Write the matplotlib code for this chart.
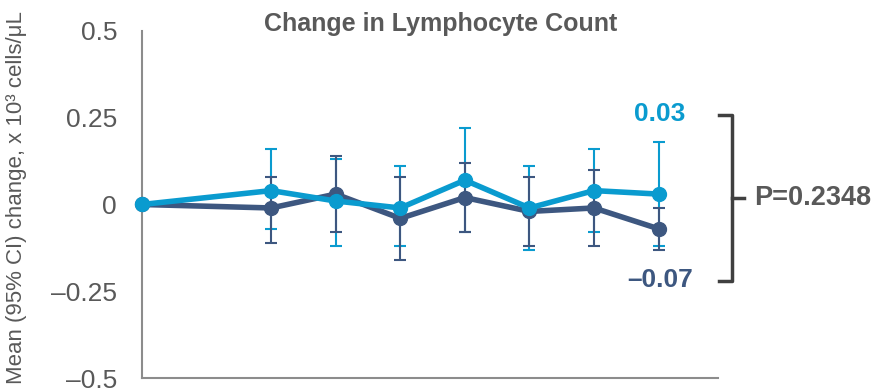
import matplotlib.pyplot as plt
import numpy as np

plt.rcParams['font.family'] = ['Liberation Sans', 'DejaVu Sans']

# visit positions (weeks) and mean change with 95% CI
weeks = [0, 4, 6, 8, 10, 12, 14, 16]

light_mean = [0.0, 0.04, 0.01, -0.01, 0.07, -0.01, 0.04, 0.03]
light_lo = [0.0, -0.07, -0.12, -0.12, -0.08, -0.13, -0.08, -0.12]
light_hi = [0.0, 0.16, 0.13, 0.11, 0.22, 0.11, 0.16, 0.18]

dark_mean = [0.0, -0.01, 0.03, -0.04, 0.02, -0.02, -0.01, -0.07]
dark_lo = [0.0, -0.11, -0.08, -0.16, -0.08, -0.12, -0.12, -0.13]
dark_hi = [0.0, 0.08, 0.14, 0.08, 0.12, 0.08, 0.10, -0.01]

yticks = [0.5, 0.25, 0, -0.25, -0.5]
ytick_labels = ['0.5', '0.25', '0', '\u20130.25', '\u20130.5']

p_value = 'P=0.2348'

LIGHT = '#0A9BCF'
DARK = '#3D5780'
GREY = '#595959'

fig = plt.figure(figsize=(8.77, 3.91), dpi=100)
ax = fig.add_axes([0.162, 0.033, 0.657, 0.888])


def yerr(mean, lo, hi):
    m = np.array(mean)
    return np.vstack([m - np.array(lo), np.array(hi) - m])


# error bars under the lines
ax.errorbar(weeks[1:], light_mean[1:], yerr=yerr(light_mean, light_lo, light_hi)[:, 1:],
            fmt='none', ecolor=LIGHT, elinewidth=1.5, capsize=4, capthick=1.5, zorder=2)
ax.errorbar(weeks[1:], dark_mean[1:], yerr=yerr(dark_mean, dark_lo, dark_hi)[:, 1:],
            fmt='none', ecolor=DARK, elinewidth=1.5, capsize=4, capthick=1.5, zorder=2)

ax.plot(weeks, dark_mean, color=DARK, lw=4, marker='o', ms=10, zorder=3, clip_on=False)
ax.plot(weeks, light_mean, color=LIGHT, lw=4, marker='o', ms=10, zorder=4, clip_on=False)

ax.set_xlim(0, 17.85)
ax.set_ylim(-0.5, 0.5)
ax.set_xticks([])
ax.set_yticks(yticks)
ax.set_yticklabels(ytick_labels, fontsize=19, color=GREY)
ax.tick_params(axis='y', length=0, pad=18)

for side in ['top', 'right']:
    ax.spines[side].set_visible(False)
for side in ['left', 'bottom']:
    ax.spines[side].set_color('#8C8C8C')
    ax.spines[side].set_linewidth(1.5)

ax.set_ylabel('Mean (95% CI) change, x 10\u00b3 cells/\u03bcL', fontsize=16, color=GREY)
ax.yaxis.set_label_coords(-0.2, 0.52)

ax.text(0.519, 1.0, 'Change in Lymphocyte Count', transform=ax.transAxes,
        fontsize=18, fontweight='bold', color=GREY, ha='center', va='baseline')

# end-point values
ax.text(16.84, 0.26, f'{light_mean[-1]:.2f}', color=LIGHT,
        fontsize=19, fontweight='bold', ha='right', va='center')
ax.text(17.07, -0.218, f'\u2013{abs(dark_mean[-1]):.2f}', color=DARK,
        fontsize=19, fontweight='bold', ha='right', va='center')

# bracket with p-value
bx, btop, bbot = 18.28, 0.259, -0.221
bmid = (btop + bbot) / 2
ax.plot([bx - 0.4, bx, bx, bx - 0.4], [btop, btop, bbot, bbot], color='#404040', lw=2.5,
        clip_on=False, solid_joinstyle='round')
ax.plot([bx, bx + 0.38], [bmid, bmid], color='#404040', lw=2.5, clip_on=False)
ax.text(18.97, bmid, p_value, color=GREY, fontsize=19.5, fontweight='bold',
        ha='left', va='center')

fig.savefig('out.png', dpi=100)
